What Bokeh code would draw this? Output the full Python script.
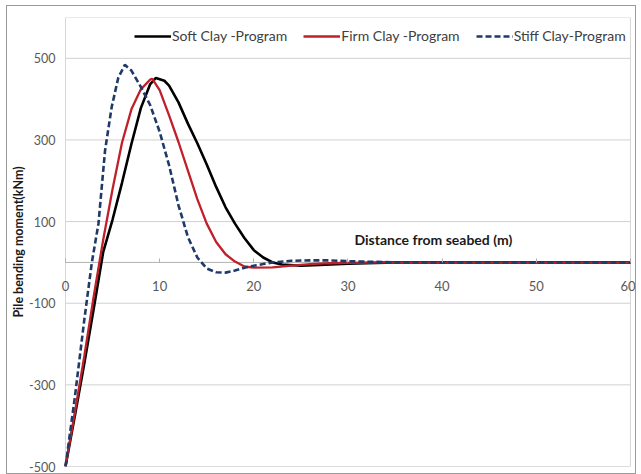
from bokeh.plotting import figure
from bokeh.models import Range1d, Legend, LegendItem, Label, FixedTicker, PrintfTickFormatter
from bokeh.embed import file_html
from bokeh.resources import INLINE

# ---- data ----
soft_x = [0, 1, 2, 3, 4, 5, 6, 7, 8, 9, 9.6, 10.5, 11, 12, 13, 14, 15, 16, 17, 18, 19, 20, 21, 22, 23, 25, 27, 30, 35, 40, 45, 50, 55, 60]
soft_y = [-500, -375, -247, -113, 25, 105, 195, 290, 378, 437, 452, 445, 433, 392, 340, 292, 240, 185, 135, 95, 60, 30, 12, 0, -5, -8, -6, -3, 0, 0, 0, 0, 0, 0]

firm_x = [0, 1, 2, 3, 4, 5, 6, 7, 8, 9, 9.2, 10, 11, 12, 13, 14, 15, 16, 17, 18, 19, 20, 22, 24, 26, 28, 30, 35, 40, 45, 50, 55, 60]
firm_y = [-500, -367, -229, -83, 55, 180, 293, 375, 424, 448, 450, 422, 360, 295, 225, 155, 95, 50, 20, 2, -10, -13, -12, -8, -4, -2, -1, 0, 0, 0, 0, 0, 0]

stiff_x = [0, 1, 2, 2.8, 3.5, 4.2, 4.9, 5.6, 6.3, 7, 8, 9, 10, 11, 12, 13, 14, 15, 16, 17, 18, 19, 20, 21, 22, 24, 26, 28, 30, 35, 40, 45, 50, 55, 60]
stiff_y = [-500, -329, -140, 0, 95, 274, 380, 452, 484, 470, 430, 385, 320, 238, 140, 62, 12, -15, -24, -25, -20, -13, -8, -4, 0, 4, 5, 5, 3, 0, 0, 0, 0, 0, 0]

series_names = ["Soft Clay -Program", "Firm Clay -Program", "Stiff Clay-Program"]
x_ticks = [0, 10, 20, 30, 40, 50, 60]
y_ticks = [-500, -300, -100, 100, 300, 500]
X_MIN, X_MAX = 0, 60
Y_MIN, Y_MAX = -500, 600

FONT = "Lato"

# frame is a little wider than the data area so the axis labels at 0 and 60 are not clipped
p = figure(width=630, height=469, output_backend="svg", toolbar_location=None,
           x_range=Range1d(X_MIN - 0.85, X_MAX + 0.75), y_range=Range1d(Y_MIN, Y_MAX),
           min_border_left=50, min_border_right=0, min_border_top=11, min_border_bottom=9,
           styles={"border": "1px solid #9a9a9a", "margin-left": "6px", "margin-top": "5px"})

p.outline_line_color = None
p.background_fill_color = "white"
p.border_fill_color = "white"

p.xgrid.visible = False
p.ygrid.visible = False

# horizontal gridlines across the plot area
p.segment(x0=[X_MIN] * len(y_ticks), x1=[X_MAX] * len(y_ticks), y0=y_ticks, y1=y_ticks,
          line_color="#d0d0d0", line_width=1)
# plot-area border
p.quad(left=[X_MIN], right=[X_MAX], bottom=[Y_MIN], top=[Y_MAX],
       fill_color=None, line_color="#d6d6d6", line_width=1)

# x axis crossing at y = 0
xa = p.xaxis[0]
xa.ticker = FixedTicker(ticks=x_ticks)
xa.fixed_location = 0
xa.axis_line_color = None
xa.major_tick_in = 4
xa.major_tick_out = 0
xa.minor_tick_line_color = None
xa.major_tick_line_color = "#b0b0b0"
xa.major_label_text_font = FONT
xa.major_label_text_font_size = "13px"
xa.major_label_text_color = "#595959"
xa.major_label_standoff = 19
p.segment(x0=[X_MIN], x1=[X_MAX], y0=[0], y1=[0], line_color="#b0b0b0", line_width=1)

ya = p.yaxis[0]
ya.ticker = FixedTicker(ticks=y_ticks)
ya.formatter = PrintfTickFormatter(format="%d")
ya.axis_line_color = None
ya.major_tick_line_color = None
ya.major_tick_out = 0
ya.major_tick_in = 0
ya.minor_tick_line_color = None
ya.major_label_text_font = FONT
ya.major_label_text_font_size = "12.5px"
ya.major_label_text_color = "#595959"
ya.major_label_standoff = 2
ya.axis_label = "Pile bending moment(kNm)"
ya.axis_label_text_font = FONT
ya.axis_label_text_font_size = "12.5px"
ya.axis_label_text_font_style = "bold"
ya.axis_label_text_color = "#1a1a1a"
ya.axis_label_standoff = 0

r1 = p.line(soft_x, soft_y, line_color="#000000", line_width=2.6)
r2 = p.line(firm_x, firm_y, line_color="#c0202a", line_width=2.3)
r3 = p.line(stiff_x, stiff_y, line_color="#1f3a68", line_width=2.6, line_dash="6 3")

legend = Legend(items=[LegendItem(label=series_names[0], renderers=[r1]),
                       LegendItem(label=series_names[1], renderers=[r2]),
                       LegendItem(label=series_names[2], renderers=[r3])],
                orientation="horizontal", location=(77, 422),
                background_fill_alpha=0, border_line_color=None,
                label_text_font=FONT, label_text_font_size="14px",
                label_text_color="#404040", glyph_width=37, glyph_height=14,
                label_standoff=1, spacing=16, padding=0, margin=0)
p.add_layout(legend)

p.add_layout(Label(x=297, y=219, x_units="screen", y_units="screen",
                   text="Distance from seabed (m)", text_font=FONT,
                   text_font_size="14px", text_font_style="bold", text_color="#1a1a1a"))

open("out.html", "w").write(file_html(p, INLINE))
